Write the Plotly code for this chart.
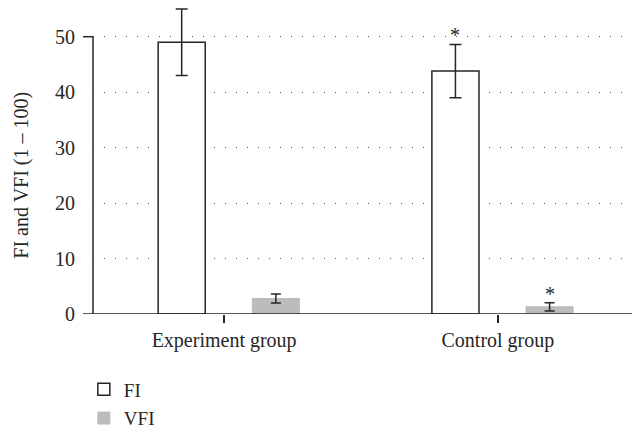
import plotly.graph_objects as go

groups = ["Experiment group", "Control group"]
fi_values = [49.0, 43.8]
fi_errors = [6.0, 4.8]
vfi_values = [2.8, 1.3]
vfi_errors = [0.8, 0.75]
y_ticks = [0, 10, 20, 30, 40, 50]
sig_marks = ["", "*"]

FONT = "Liberation Serif"
DARK = "#262626"
FS = 20

fig = go.Figure()
fig.add_trace(go.Bar(
    name="FI", x=groups, y=fi_values,
    offset=-0.241, width=0.172, legendgroup="a",
    marker=dict(color="white", line=dict(color=DARK, width=1.5)),
    error_y=dict(type="data", array=fi_errors, color=DARK, thickness=1.5, width=6),
))
fig.add_trace(go.Bar(
    name="VFI", x=groups, y=vfi_values,
    offset=0.103, width=0.172, legendgroup="b",
    marker=dict(color="#bcbcbc", line=dict(color="#bcbcbc", width=1)),
    error_y=dict(type="data", array=vfi_errors, color=DARK, thickness=1.5, width=5),
))

# significance asterisks above error bars
for i, g in enumerate(groups):
    if sig_marks[i]:
        fig.add_annotation(x=i, xshift=-0.155 * 273.7, y=fi_values[i] + fi_errors[i],
                           text=sig_marks[i], showarrow=False, yanchor="bottom", yshift=-4,
                           font=dict(family=FONT, size=FS, color=DARK))
        fig.add_annotation(x=i, xshift=0.189 * 273.7, y=vfi_values[i] + vfi_errors[i],
                           text=sig_marks[i], showarrow=False, yanchor="bottom", yshift=-4,
                           font=dict(family=FONT, size=FS, color=DARK))

# axis frame lines
fig.add_shape(type="line", xref="paper", yref="y", x0=0, x1=0, y0=0, y1=50,
              line=dict(color=DARK, width=1.5))
fig.add_shape(type="line", xref="paper", yref="y", x0=-0.0186, x1=1, y0=0, y1=0,
              line=dict(color=DARK, width=1.5))
fig.add_shape(type="line", xref="paper", yref="y", x0=-0.0186, x1=0, y0=50, y1=50,
              line=dict(color=DARK, width=1.5))

fig.add_annotation(xref="paper", yref="y", x=-0.133, y=25, text="FI and VFI (1 – 100)",
                   textangle=-90, showarrow=False, xanchor="center", yanchor="middle",
                   font=dict(family=FONT, size=FS, color=DARK))

fig.update_layout(
    width=632, height=434,
    margin=dict(l=93, r=0, t=0, b=120, autoexpand=False),
    plot_bgcolor="white", paper_bgcolor="white",
    font=dict(family=FONT, size=FS, color=DARK),
    barmode="overlay",
    showlegend=True,
    legend=dict(x=-0.017, y=-0.18, xanchor="left", yanchor="top",
                font=dict(family=FONT, size=19, color=DARK),
                orientation="v", tracegroupgap=1, traceorder="grouped"),
    xaxis=dict(range=[-0.479, 1.49], showline=False, showgrid=False, zeroline=False,
               ticks="outside", ticklen=8, tickwidth=1.5, tickcolor=DARK,
               tickfont=dict(family=FONT, size=FS, color=DARK)),
    yaxis=dict(range=[0, 56.62], tickvals=y_ticks, showline=False, zeroline=False,
               showgrid=True, gridcolor="#555555", gridwidth=1, griddash="1px,10px",
               ticks="", ticklabelstandoff=17,
               tickfont=dict(family=FONT, size=FS, color=DARK)),
)

fig.write_html("out.html", config={"displayModeBar": False},
               post_script="document.body.style.margin='0';document.body.style.overflow='hidden';")
